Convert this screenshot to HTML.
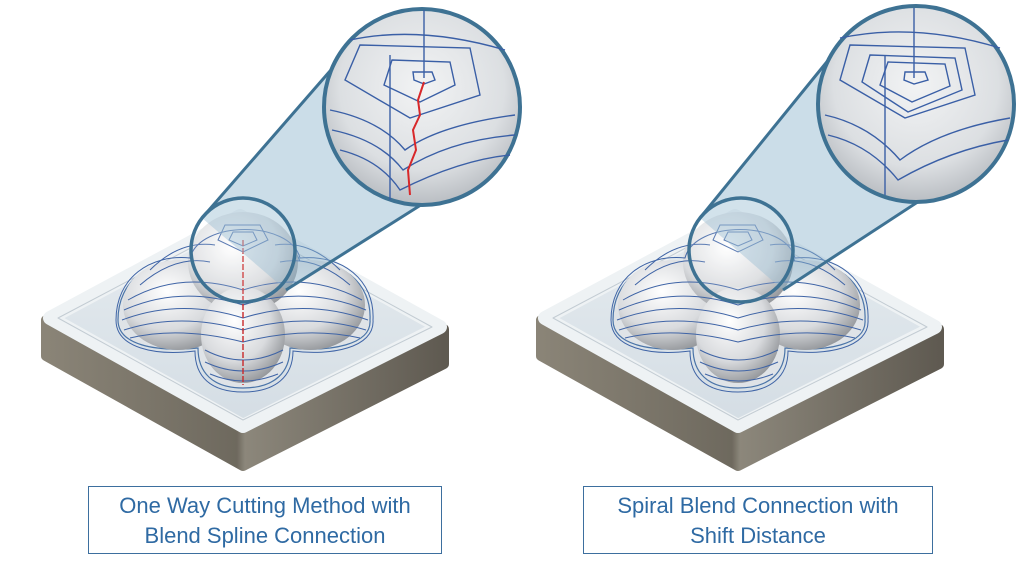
<!DOCTYPE html>
<html><head><meta charset="utf-8"><style>
html,body{margin:0;padding:0;background:#fff;width:1024px;height:576px;overflow:hidden}
.box{position:absolute;border:1.5px solid #3d6f9e;color:#2f6aa3;font-family:"Liberation Sans",sans-serif;font-size:22px;line-height:30px;text-align:center;box-sizing:border-box;padding-top:4px}
</style></head><body>
<svg width="1024" height="576" style="position:absolute;left:0;top:0">
<defs>
<linearGradient id="base" x1="0" y1="0" x2="1" y2="0">
<stop offset="0" stop-color="#8a8477"/><stop offset="0.48" stop-color="#6e695e"/><stop offset="0.5" stop-color="#8c877b"/><stop offset="1" stop-color="#5f5a51"/></linearGradient>
<linearGradient id="top" x1="0" y1="0" x2="0" y2="1">
<stop offset="0" stop-color="#e6ecf0"/><stop offset="1" stop-color="#d4dde4"/></linearGradient>
<radialGradient id="lobe" cx="0.4" cy="0.35" r="0.7">
<stop offset="0" stop-color="#ffffff"/><stop offset="0.6" stop-color="#d9dbde"/><stop offset="1" stop-color="#8f9296"/></radialGradient>
<radialGradient id="mag" cx="0.5" cy="0.4" r="0.6">
<stop offset="0" stop-color="#f2f3f4"/><stop offset="0.7" stop-color="#dcdfe2"/><stop offset="1" stop-color="#b9bdc2"/></radialGradient>
<g id="plate">
<polygon points="46,320 46,356 243,466 444,364 444,329 243,428" fill="url(#base)" stroke="url(#base)" stroke-width="10" stroke-linejoin="round"/>
<polygon points="50,318 240,216 440,327 243,426" fill="url(#top)" stroke="#eef2f4" stroke-width="14" stroke-linejoin="round"/>
<polygon points="58,318 240,222 432,327 243,420" fill="none" stroke="#c3ccd3" stroke-width="1" stroke-linejoin="round"/>
<path d="M118,320 C118,280 150,258 190,262 C200,225 290,225 300,262 C340,258 372,282 370,320 C372,345 330,352 290,348 C290,372 275,388 243,388 C212,388 198,372 198,348 C155,352 118,345 118,320Z" fill="#dfe3e7" stroke="#4a74a8" stroke-width="1.2"/>
<ellipse cx="178" cy="305" rx="55" ry="45" fill="url(#lobe)"/>
<ellipse cx="310" cy="305" rx="55" ry="45" fill="url(#lobe)"/>
<ellipse cx="243" cy="262" rx="55" ry="50" fill="url(#lobe)"/>
<ellipse cx="243" cy="335" rx="42" ry="48" fill="url(#lobe)"/>
<g fill="none" stroke="#3f64a6" stroke-width="1">
<path d="M128,300 Q180,270 243,290 Q306,270 362,300"/>
<path d="M124,310 Q180,285 243,305 Q306,285 366,310"/>
<path d="M122,320 Q180,298 243,318 Q306,298 368,320"/>
<path d="M124,330 Q180,312 243,330 Q306,312 366,330"/>
<path d="M130,338 Q180,326 243,342 Q306,326 360,338"/>
<path d="M205,350 Q243,370 283,350"/><path d="M205,362 Q243,380 283,362"/><path d="M210,374 Q243,388 278,374"/>
<path d="M150,270 Q180,240 215,245"/><path d="M340,270 Q310,240 275,245"/>
<path d="M140,285 Q175,255 210,262"/><path d="M350,285 Q315,255 280,262"/>
<path d="M225,225 L260,225 L268,240 L243,252 L218,240Z"/>
<path d="M233,232 L253,232 L257,240 L243,246 L229,240Z"/>
<path d="M116,320 C116,278 150,254 190,258 C200,220 290,220 300,258 C342,254 375,280 373,320 C375,348 330,356 293,351 C293,376 276,392 243,392 C210,392 195,376 195,351 C155,356 116,348 116,320Z"/>
</g>
</g>
</defs>

<use href="#plate"/>
<line x1="243" y1="240" x2="243" y2="385" stroke="#c8282a" stroke-width="1.4" stroke-dasharray="6,2"/>
<polygon points="202,218 337,63 508,150 286,290" fill="rgba(140,180,205,0.45)"/>
<line x1="202" y1="218" x2="337" y2="63" stroke="#3e7293" stroke-width="3"/>
<line x1="286" y1="290" x2="508" y2="150" stroke="#3e7293" stroke-width="3"/>
<circle cx="243" cy="250" r="52" fill="rgba(255,255,255,0.15)" stroke="#3e7293" stroke-width="3.5"/>
<circle cx="422" cy="107" r="98" fill="url(#mag)" stroke="#3e7293" stroke-width="4"/>
<g fill="none" stroke="#3a5fa6" stroke-width="1.4">
<path d="M350,40 Q420,25 505,50"/><path d="M360,45 L470,48 L480,95 L410,118 L345,80Z"/>
<path d="M392,60 L450,62 L455,85 L420,102 L384,85Z"/><path d="M413,72 L432,72 L435,80 L424,84 L414,80Z"/>
<line x1="424" y1="10" x2="424" y2="78"/><line x1="390" y1="55" x2="390" y2="200"/>
<path d="M330,110 Q380,120 405,150 Q440,125 515,115"/><path d="M332,130 Q380,140 403,170 Q450,140 515,135"/><path d="M340,150 Q380,160 400,190 Q460,160 510,155"/>
</g>
<path d="M424,82 L418,100 L420,115 L413,130 L416,150 L408,170 L410,195" fill="none" stroke="#d8282a" stroke-width="2"/>

<use href="#plate" x="495"/>
<polygon points="700,218 830,58 1005,145 783,290" fill="rgba(140,180,205,0.45)"/>
<line x1="700" y1="218" x2="830" y2="58" stroke="#3e7293" stroke-width="3"/>
<line x1="783" y1="290" x2="1005" y2="145" stroke="#3e7293" stroke-width="3"/>
<circle cx="741" cy="250" r="52" fill="rgba(255,255,255,0.15)" stroke="#3e7293" stroke-width="3.5"/>
<circle cx="916" cy="104" r="98" fill="url(#mag)" stroke="#3e7293" stroke-width="4"/>
<g fill="none" stroke="#3a5fa6" stroke-width="1.4">
<path d="M840,38 Q915,22 1000,48"/><path d="M850,45 L965,48 L975,95 L905,118 L840,80Z"/>
<path d="M870,55 L955,58 L962,90 L908,112 L862,82Z"/>
<path d="M888,62 L945,64 L950,86 L912,102 L880,85Z"/><path d="M905,72 L925,72 L928,80 L914,84 L904,80Z"/>
<line x1="914" y1="8" x2="914" y2="78"/><line x1="885" y1="55" x2="885" y2="195"/>
<path d="M825,115 Q870,125 900,160 Q940,130 1010,118"/><path d="M828,135 Q870,145 898,180 Q950,150 1008,140"/>
</g>
</svg>
<div class="box" style="left:88px;top:486px;width:354px;height:68px">One Way Cutting Method with<br>Blend Spline Connection</div>
<div class="box" style="left:583px;top:486px;width:350px;height:68px">Spiral Blend Connection with<br>Shift Distance</div>
</body></html>
